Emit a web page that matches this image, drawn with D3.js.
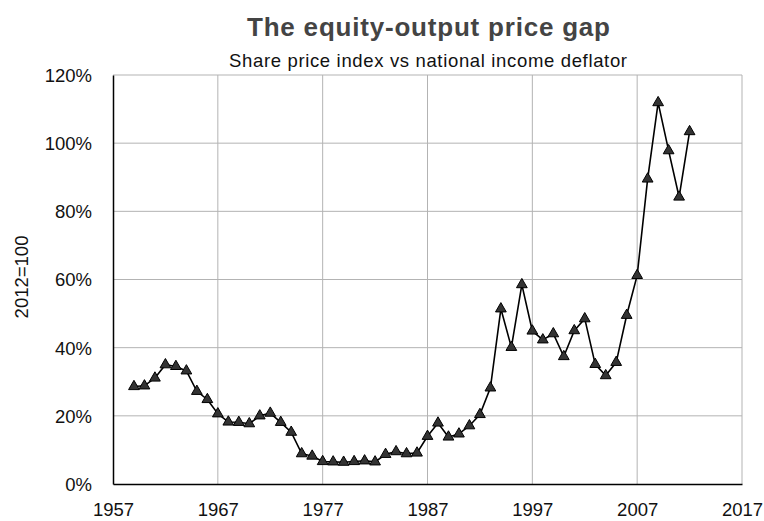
<!DOCTYPE html>
<html><head><meta charset="utf-8">
<script src="https://cdn.jsdelivr.net/npm/d3@7"></script>
<style>body{margin:0;background:#fff}svg{display:block}</style>
</head><body>
<svg id="c" width="764" height="521"></svg>
<script>
const years = d3.range(1959, 2013);
const values = [28.6,28.8,31.1,35.0,34.5,33.2,27.2,24.8,20.6,18.2,18.1,17.7,20.0,20.8,18.1,15.2,8.9,8.2,6.6,6.5,
  6.4,6.6,6.8,6.5,8.7,9.5,8.9,9.1,14.0,17.9,13.8,14.7,17.1,20.4,28.2,51.4,40.1,58.5,44.9,42.3,
  44.1,37.4,45.0,48.5,35.1,31.8,35.7,49.5,61.2,89.5,111.9,97.8,84.2,103.4];
const xTicks = [1957,1967,1977,1987,1997,2007,2017];
const yTicks = [0,20,40,60,80,100,120];
const title = "The equity-output price gap";
const subtitle = "Share price index vs national income deflator";
const yLabel = "2012=100";

const svg = d3.select("#c");
const m = {l:113, r:742, t:75, b:484};
const x = d3.scaleLinear().domain([1957,2017]).range([m.l,m.r]);
const y = d3.scaleLinear().domain([0,120]).range([m.b,m.t]);
const font = "'Liberation Sans', Arial, Helvetica, sans-serif";

// grid
svg.append("g").selectAll("line").data(xTicks.slice(1)).join("line")
  .attr("x1",d=>x(d)).attr("x2",d=>x(d)).attr("y1",m.t).attr("y2",m.b)
  .attr("stroke","#b3b3b3").attr("stroke-width",1);
svg.append("g").selectAll("line").data(yTicks.slice(1)).join("line")
  .attr("x1",m.l).attr("x2",m.r).attr("y1",d=>y(d)).attr("y2",d=>y(d))
  .attr("stroke","#b3b3b3").attr("stroke-width",1);

// axes
const xa = svg.append("g").attr("transform",`translate(0,${m.b})`)
  .call(d3.axisBottom(x).tickValues(xTicks).tickFormat(d3.format("d")).tickSize(0).tickPadding(18.5));
const ya = svg.append("g").attr("transform",`translate(${m.l},0)`)
  .call(d3.axisLeft(y).tickValues(yTicks).tickFormat(d=>d+"%").tickSize(0).tickPadding(21));
[xa,ya].forEach(a=>{
  a.select(".domain").attr("stroke","#000").attr("stroke-width",1.5);
  a.selectAll("text").attr("font-family",font).attr("font-size",18.5).attr("fill","#111");
});
ya.selectAll("text").attr("dy","0.35em");

// line
const line = d3.line().x((d,i)=>x(years[i])).y(d=>y(d));
svg.append("path").datum(values).attr("d",line).attr("fill","none")
  .attr("stroke","#000").attr("stroke-width",1.6);
const tri = d3.symbol().type(d3.symbolTriangle).size(50);
svg.append("g").selectAll("path").data(values).join("path")
  .attr("d",tri).attr("transform",(d,i)=>`translate(${x(years[i])},${y(d)})`)
  .attr("fill","#333").attr("stroke","#000").attr("stroke-width",1);

// titles
svg.append("text").attr("x",428.5).attr("y",36).attr("text-anchor","middle")
  .attr("textLength",363).attr("lengthAdjust","spacing")
  .attr("font-family",font).attr("font-weight","bold").attr("font-size",26).attr("fill","#444").text(title);
svg.append("text").attr("x",428).attr("y",67).attr("text-anchor","middle")
  .attr("textLength",398).attr("lengthAdjust","spacing")
  .attr("font-family",font).attr("font-size",18.5).attr("fill","#111").text(subtitle);
svg.append("text").attr("transform",`translate(28,277) rotate(-90)`).attr("text-anchor","middle")
  .attr("font-family",font).attr("font-size",18.5).attr("fill","#111").text(yLabel);
</script>
</body></html>
